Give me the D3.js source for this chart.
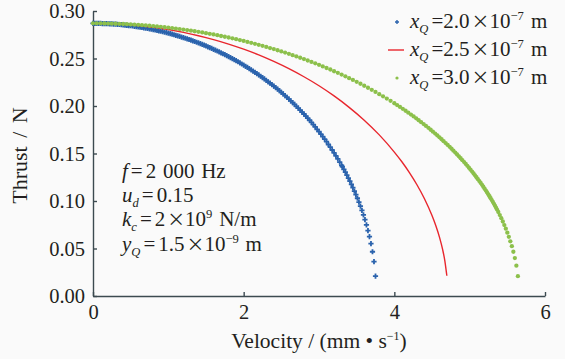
<!DOCTYPE html>
<html>
<head>
<meta charset="utf-8">
<script src="https://cdn.jsdelivr.net/npm/d3@7"></script>
<style>
  html, body { margin: 0; padding: 0; background: #fafafa; }
  svg { display: block; }
  text { font-family: "Liberation Serif", "Times New Roman", serif; fill: #231f20; }
  .tick text { font-family: "Liberation Serif", serif !important; }
</style>
</head>
<body>
<svg id="chart" width="565" height="359"></svg>
<script>
// ---- data ----
const blueVel = [0,0.025,0.05,0.075,0.1,0.125,0.15,0.175,0.2,0.225,0.25,0.275,0.3,0.325,0.35,0.375,0.4,0.425,0.45,0.475,
  0.5,0.525,0.55,0.575,0.6,0.625,0.65,0.675,0.7,0.725,0.75,0.775,0.8,0.825,0.85,0.875,0.9,0.925,0.95,0.975,
  1.0,1.025,1.05,1.075,1.1,1.125,1.15,1.175,1.2,1.225,1.25,1.275,1.3,1.325,1.35,1.375,1.4,1.425,1.45,1.475,
  1.5,1.525,1.55,1.575,1.6,1.625,1.65,1.675,1.7,1.725,1.75,1.775,1.8,1.825,1.85,1.875,1.9,1.925,1.95,1.975,
  2.0,2.025,2.05,2.075,2.1,2.125,2.15,2.175,2.2,2.225,2.25,2.275,2.3,2.325,2.35,2.375,2.4,2.425,2.45,2.475,
  2.5,2.525,2.55,2.575,2.6,2.625,2.65,2.675,2.7,2.725,2.75,2.775,2.8,2.825,2.85,2.875,2.9,2.925,2.95,2.975,
  3.0,3.025,3.05,3.075,3.1,3.125,3.15,3.175,3.2,3.225,3.25,3.275,3.3,
  3.31,3.33,3.35,3.37,3.39,3.41,3.43,3.45,3.47,3.49,3.51,3.53,3.55,3.57,3.59,3.61,3.63,3.65,3.67,3.69,3.71,3.73,3.75];
const blueThrust = [0.2870,0.2870,0.2870,0.2869,0.2869,0.2868,0.2868,0.2867,0.2866,0.2865,0.2864,0.2862,0.2861,0.2859,0.2858,0.2856,0.2854,0.2852,0.2849,0.2847,
  0.2845,0.2842,0.2839,0.2836,0.2833,0.2830,0.2827,0.2823,0.2820,0.2816,0.2812,0.2808,0.2804,0.2800,0.2796,0.2791,0.2787,0.2782,0.2777,0.2772,
  0.2767,0.2761,0.2756,0.2750,0.2744,0.2738,0.2732,0.2726,0.2720,0.2713,0.2707,0.2700,0.2693,0.2686,0.2679,0.2671,0.2664,0.2656,0.2648,0.2640,
  0.2632,0.2623,0.2615,0.2606,0.2597,0.2588,0.2579,0.2569,0.2560,0.2550,0.2540,0.2530,0.2520,0.2510,0.2499,0.2488,0.2477,0.2466,0.2454,0.2442,
  0.2430,0.2418,0.2406,0.2394,0.2381,0.2368,0.2355,0.2341,0.2327,0.2313,0.2299,0.2285,0.2270,0.2255,0.2240,0.2225,0.2209,0.2193,0.2177,0.2161,
  0.2144,0.2127,0.2109,0.2091,0.2073,0.2055,0.2036,0.2017,0.1997,0.1977,0.1957,0.1936,0.1916,0.1894,0.1872,0.1850,0.1827,0.1803,0.1780,0.1755,
  0.1730,0.1704,0.1678,0.1651,0.1624,0.1595,0.1567,0.1537,0.1507,0.1475,0.1443,0.1409,0.1376,
  0.1361,0.1333,0.1303,0.1273,0.1241,0.1209,0.1176,0.1141,0.1105,0.1068,0.1029,0.0988,0.0946,0.0901,0.0853,0.0803,0.0748,0.0689,0.0624,0.0551,0.0466,0.0362,0.0209];

const redVel = [0,0.2,0.4,0.6,0.8,1.0,1.2,1.4,1.6,1.8,2.0,2.2,2.4,2.6,2.8,3.0,3.2,3.4,3.6,3.8,4.0,4.1,4.2,4.3,4.4,4.5,4.55,4.6,4.64,4.67,4.697];
const redThrust = [0.2870,0.2867,0.2860,0.2847,0.2828,0.2805,0.2775,0.2740,0.2699,0.2652,0.2598,0.2538,0.2469,0.2393,0.2308,0.2213,0.2106,0.1986,0.1851,0.1696,0.1515,0.1413,0.1299,0.1171,0.1024,0.0847,0.0742,0.0617,0.0493,0.0373,0.0213];

const greenVel = [0,0.05,0.1,0.15,0.2,0.25,0.3,0.35,0.4,0.45,0.5,0.55,0.6,0.65,0.7,0.75,0.8,0.85,0.9,0.95,
  1.0,1.05,1.1,1.15,1.2,1.25,1.3,1.35,1.4,1.45,1.5,1.55,1.6,1.65,1.7,1.75,1.8,1.85,1.9,1.95,
  2.0,2.05,2.1,2.15,2.2,2.25,2.3,2.35,2.4,2.45,2.5,2.55,2.6,2.65,2.7,2.75,2.8,2.85,2.9,2.95,
  3.0,3.05,3.1,3.15,3.2,3.25,3.3,3.35,3.4,3.45,3.5,3.55,3.6,3.65,3.7,3.75,3.8,3.85,3.9,3.95,4.0,
  4.037,4.075,4.112,4.149,4.185,4.221,4.256,4.290,4.323,4.356,4.389,4.420,4.452,4.482,4.512,4.542,4.571,4.599,4.627,4.654,
  4.681,4.708,4.734,4.759,4.784,4.809,4.833,4.857,4.880,4.903,4.926,4.948,4.969,4.990,5.011,5.032,5.052,5.071,5.090,5.109,
  5.128,5.146,5.164,5.181,5.198,5.215,5.231,5.247,5.263,5.278,5.293,5.308,5.322,5.336,5.350,5.363,
  5.38,5.40,5.42,5.44,5.46,5.48,5.50,5.52,5.54,5.56,5.58,5.60,5.62,5.64];
const greenThrust = [0.2870,0.2870,0.2870,0.2869,0.2868,0.2867,0.2866,0.2864,0.2863,0.2861,0.2859,0.2856,0.2854,0.2851,0.2848,0.2845,0.2841,0.2837,0.2833,0.2829,
  0.2825,0.2820,0.2815,0.2810,0.2805,0.2799,0.2793,0.2787,0.2781,0.2774,0.2767,0.2760,0.2753,0.2745,0.2737,0.2729,0.2721,0.2712,0.2703,0.2694,
  0.2685,0.2675,0.2665,0.2654,0.2644,0.2633,0.2622,0.2610,0.2599,0.2587,0.2574,0.2562,0.2549,0.2535,0.2522,0.2508,0.2494,0.2479,0.2464,0.2449,
  0.2433,0.2417,0.2400,0.2384,0.2366,0.2349,0.2331,0.2312,0.2293,0.2274,0.2254,0.2234,0.2213,0.2192,0.2170,0.2148,0.2125,0.2102,0.2078,0.2054,0.2029,
  0.201,0.199,0.197,0.195,0.193,0.191,0.189,0.187,0.185,0.183,0.181,0.179,0.177,0.175,0.173,0.171,0.169,0.167,0.165,0.163,
  0.161,0.159,0.157,0.155,0.153,0.151,0.149,0.147,0.145,0.143,0.141,0.139,0.137,0.135,0.133,0.131,0.129,0.127,0.125,0.123,
  0.121,0.119,0.117,0.115,0.113,0.111,0.109,0.107,0.105,0.103,0.101,0.099,0.097,0.095,0.093,0.091,
  0.0884,0.0852,0.0819,0.0784,0.0747,0.0709,0.0667,0.0623,0.0576,0.0524,0.0466,0.0399,0.0319,0.0209];

const xTicks = [0, 2, 4, 6];
const yTicks = [0, 0.05, 0.10, 0.15, 0.20, 0.25, 0.30];

// legend / annotation text pieces: it = italic, sub / sup = small shifted
const legendLabels = [
  [{t:"x",it:1},{t:"Q",it:1,sub:1},{t:"=",eq:1},{t:"2.0"},{t:"×",x:1},{t:"10"},{t:"−7",sup:1},{t:" m"}],
  [{t:"x",it:1},{t:"Q",it:1,sub:1},{t:"=",eq:1},{t:"2.5"},{t:"×",x:1},{t:"10"},{t:"−7",sup:1},{t:" m"}],
  [{t:"x",it:1},{t:"Q",it:1,sub:1},{t:"=",eq:1},{t:"3.0"},{t:"×",x:1},{t:"10"},{t:"−7",sup:1},{t:" m"}]
];
const noteLines = [
  [{t:"f",it:1},{t:"=",eq:1},{t:"2 000 Hz",after:1}],
  [{t:"u",it:1},{t:"d",it:1,sub:1},{t:"=",eq:1},{t:"0.15",after:1}],
  [{t:"k",it:1},{t:"c",it:1,sub:1},{t:"=",eq:1},{t:"2",after:1},{t:"×",x:1},{t:"10"},{t:"9",sup:1},{t:" N/m"}],
  [{t:"y",it:1},{t:"Q",it:1,sub:1},{t:"=",eq:1},{t:"1.5",after:1},{t:"×",x:1},{t:"10"},{t:"−9",sup:1},{t:" m"}]
];

const blue = "#2b63ad", red = "#e8262d", green = "#8cc04b", axisColor = "#3c4a50";

const svg = d3.select("#chart");
const width = 565, height = 359;
const margin = {left: 93, right: 20, top: 11, bottom: 63};

const x = d3.scaleLinear().domain([0, 6]).range([margin.left, width - margin.right]);
const y = d3.scaleLinear().domain([0, 0.3]).range([height - margin.bottom, margin.top]);

svg.append("rect").attr("width", width).attr("height", height).attr("fill", "#fafafa");

// axes
const xAxis = svg.append("g")
  .attr("transform", "translate(0," + y(0) + ")")
  .call(d3.axisBottom(x).tickValues(xTicks).tickSize(-4).tickSizeOuter(0).tickPadding(8).tickFormat(d3.format("d")));
const yAxis = svg.append("g")
  .attr("transform", "translate(" + x(0) + ",0)")
  .call(d3.axisLeft(y).tickValues(yTicks).tickSize(-4).tickSizeOuter(0).tickPadding(8).tickFormat(d3.format(".2f")));

[xAxis, yAxis].forEach(g => {
  g.attr("font-family", null).attr("font-size", 20.5);
  g.select(".domain").attr("stroke", axisColor).attr("stroke-width", 1.4);
  g.selectAll(".tick line").attr("stroke", axisColor).attr("stroke-width", 1.4);
  g.selectAll(".tick text").attr("fill", "#231f20");
});

// series
const blueData = blueVel.map((v, i) => ({v: v, t: blueThrust[i]}));
const redData = redVel.map((v, i) => ({v: v, t: redThrust[i]}));
const greenData = greenVel.map((v, i) => ({v: v, t: greenThrust[i]}));

svg.append("g").selectAll("path")
  .data(blueData)
  .enter().append("path")
  .attr("transform", d => "translate(" + x(d.v) + "," + y(d.t) + ")")
  .attr("d", "M-2.6,0H2.6M0,-2.6V2.6")
  .attr("stroke", blue)
  .attr("stroke-width", 1.8)
  .attr("fill", "none");

const line = d3.line().x(d => x(d.v)).y(d => y(d.t)).curve(d3.curveMonotoneX);
svg.append("path")
  .datum(redData)
  .attr("d", line)
  .attr("fill", "none")
  .attr("stroke", red)
  .attr("stroke-width", 1.4);

svg.append("g").selectAll("circle")
  .data(greenData)
  .enter().append("circle")
  .attr("cx", d => x(d.v))
  .attr("cy", d => y(d.t))
  .attr("r", 2.15)
  .attr("fill", green);

// rich text helper: italics, sub/superscripts, wide "=" and "×"
function richText(sel, parts, size) {
  let shift = 0;
  parts.forEach(p => {
    const ts = sel.append("tspan").text(p.t);
    let target = 0;
    if (p.sub) target = 5;
    if (p.sup) target = -8;
    ts.attr("dy", target - shift);
    shift = target;
    if (p.it) ts.attr("font-style", "italic");
    if (p.sub || p.sup) ts.attr("font-size", size * 0.6);
    if (p.eq) ts.attr("dx", 3);
    if (p.after) ts.attr("dx", 3);
    if (p.x) ts.style("font-family", "'Noto Sans CJK SC'").attr("font-size", size * 0.85).attr("dx", 2);
  });
}

// legend
const legendY = [22, 50, 78];
const legend = svg.append("g");
legendLabels.forEach((parts, i) => {
  const t = legend.append("text").attr("x", 410).attr("y", legendY[i] + 6).attr("font-size", 21)
    .attr("word-spacing", 2);
  richText(t, parts, 21);
});
legend.append("path")
  .attr("transform", "translate(397," + legendY[0] + ")")
  .attr("d", "M-2,0H2M0,-2V2").attr("stroke", blue).attr("stroke-width", 1.4);
legend.append("line")
  .attr("x1", 388).attr("x2", 404).attr("y1", legendY[1]).attr("y2", legendY[1])
  .attr("stroke", red).attr("stroke-width", 1.4);
legend.append("circle").attr("cx", 397).attr("cy", legendY[2]).attr("r", 1.6).attr("fill", green);

// parameter note
const noteY = [178, 202, 226, 251];
noteLines.forEach((parts, i) => {
  const t = svg.append("text").attr("x", 122).attr("y", noteY[i]).attr("font-size", 21)
    .attr("word-spacing", 1.5);
  richText(t, parts, 21);
});

// axis titles
svg.append("text")
  .attr("x", 319).attr("y", 348)
  .attr("text-anchor", "middle").attr("font-size", 21.5)
  .call(t => {
    t.append("tspan").text("Velocity / (mm • s");
    t.append("tspan").text("−1").attr("font-size", 12).attr("dy", -8);
    t.append("tspan").text(")").attr("dy", 8);
  });

svg.append("text")
  .attr("transform", "translate(27," + (y(0.15) + 2) + ") rotate(-90)")
  .attr("text-anchor", "middle").attr("font-size", 22).attr("word-spacing", 3)
  .text("Thrust / N");
</script>
</body>
</html>
